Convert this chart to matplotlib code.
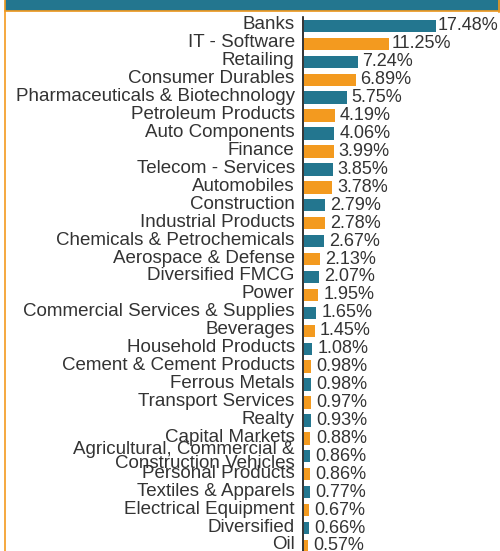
import matplotlib
matplotlib.use("Agg")
import matplotlib.pyplot as plt
from matplotlib.lines import Line2D
from matplotlib.patches import Rectangle
from matplotlib.transforms import ScaledTranslation

sectors = ["Banks", "IT - Software", "Retailing", "Consumer Durables",
           "Pharmaceuticals & Biotechnology", "Petroleum Products", "Auto Components",
           "Finance", "Telecom - Services", "Automobiles", "Construction",
           "Industrial Products", "Chemicals & Petrochemicals", "Aerospace & Defense",
           "Diversified FMCG", "Power", "Commercial Services & Supplies", "Beverages",
           "Household Products", "Cement & Cement Products", "Ferrous Metals",
           "Transport Services", "Realty", "Capital Markets",
           "Agricultural, Commercial &\nConstruction Vehicles", "Personal Products",
           "Textiles & Apparels", "Electrical Equipment", "Diversified", "Oil"]
weights = [17.48, 11.25, 7.24, 6.89, 5.75, 4.19, 4.06, 3.99, 3.85, 3.78, 2.79, 2.78,
           2.67, 2.13, 2.07, 1.95, 1.65, 1.45, 1.08, 0.98, 0.98, 0.97, 0.93, 0.88,
           0.86, 0.86, 0.77, 0.67, 0.66, 0.57]

teal = "#23768f"
orange = "#f39a1f"
txt = "#333333"
colors = [teal if i % 2 == 0 else orange for i in range(len(weights))]

plt.rcParams["font.family"] = ["Liberation Sans", "DejaVu Sans"]

W, H = 500, 551
fig = plt.figure(figsize=(W / 100, H / 100), dpi=100)

# header strip and orange frame
fig.patches.append(Rectangle((5 / W, 1 - 10 / H), 1, 10 / H, transform=fig.transFigure,
                             color=teal, zorder=0))
fig.lines.append(Line2D([4.5 / W, 1], [1 - 10.5 / H] * 2, transform=fig.transFigure,
                        color=orange, lw=1.2))
fig.lines.append(Line2D([4.5 / W] * 2, [0, 1], transform=fig.transFigure,
                        color=orange, lw=1.2))
fig.lines.append(Line2D([499 / W] * 2, [1 - 12 / H, 1], transform=fig.transFigure,
                        color=orange, lw=1.2))

# axes: row -0.5 at 17px from top, row pitch ~17.93px, runs past the bottom
pitch = 17.93
n = len(weights)
top = 17
bottom_px = top + pitch * n
ax = fig.add_axes([303 / W, (H - bottom_px) / H, (W - 303) / W, (bottom_px - top) / H])
ax.set_xlim(0, (W - 303) / 7.55)
ax.set_ylim(n - 0.5, -0.5)

ypos = list(range(n))
ax.barh(ypos, weights, height=0.69, color=colors, left=0.1)
for y, v in zip(ypos, weights):
    # the gap between bar end and label shrinks a bit for the long bars
    ax.text(v * 0.97 + 0.85, y, f"{v:.2f}%", va="center", ha="left",
            fontsize=13, color=txt)

ax.set_yticks(ypos)
ax.set_yticklabels(sectors, fontsize=13.5, color=txt, linespacing=0.75)
ax.tick_params(axis="y", length=0, pad=6)
# single-line labels sit a little above the bar centre
up = ScaledTranslation(0, 3 / 100, fig.dpi_scale_trans)
for lab in ax.get_yticklabels():
    if "\n" not in lab.get_text():
        lab.set_transform(lab.get_transform() + up)
ax.set_xticks([])
for s in ["top", "right", "bottom"]:
    ax.spines[s].set_visible(False)
ax.spines["left"].set_color("#111111")
ax.spines["left"].set_linewidth(1.2)
ax.patch.set_alpha(0)

fig.savefig("out.png", dpi=100)
